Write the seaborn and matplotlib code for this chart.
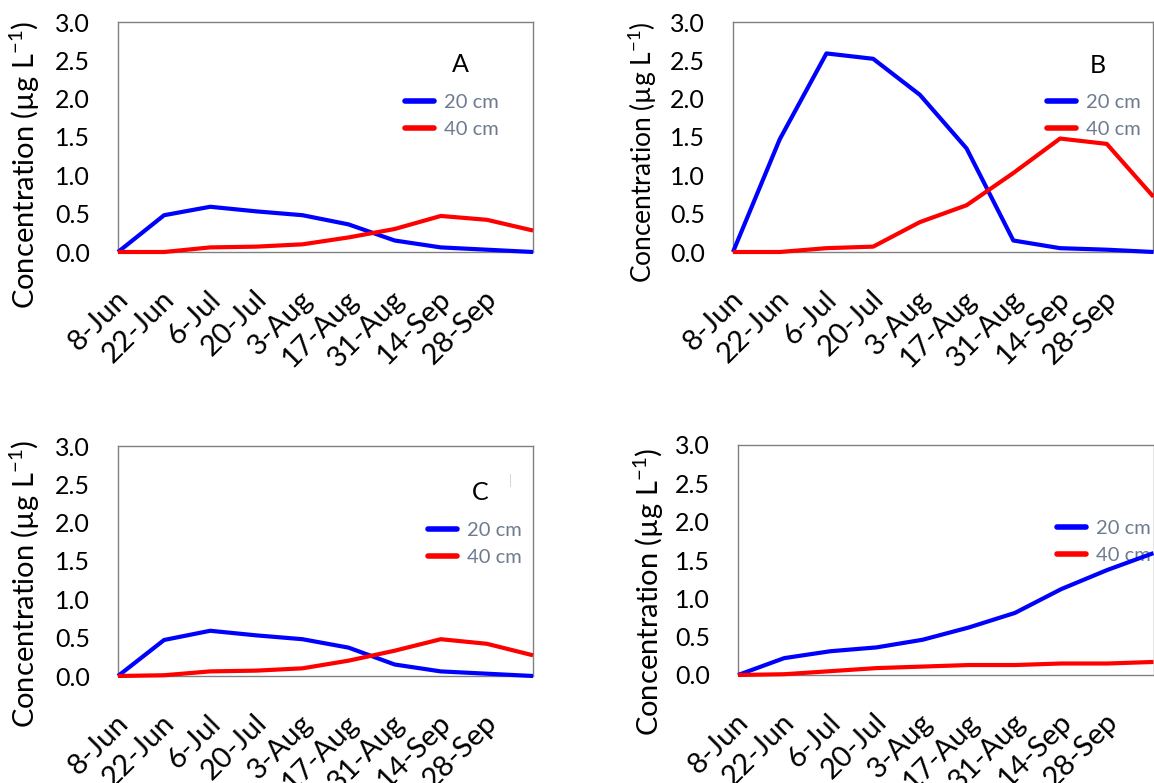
import numpy as np
import pandas as pd
import matplotlib
matplotlib.use("Agg")
import matplotlib.pyplot as plt
import matplotlib.transforms as mtransforms
import seaborn as sns
from matplotlib.lines import Line2D

# ---- data ----
tick_labels = ['8-Jun', '22-Jun', '6-Jul', '20-Jul', '3-Aug', '17-Aug', '31-Aug', '14-Sep', '28-Sep']
series_names = ['20 cm', '40 cm']

A_20 = [0.0, 0.48, 0.59, 0.53, 0.48, 0.36, 0.15, 0.06, 0.03, 0.00]
A_40 = [0.0, 0.00, 0.06, 0.07, 0.10, 0.19, 0.30, 0.47, 0.42, 0.28]
B_20 = [0.0, 1.47, 2.59, 2.52, 2.05, 1.35, 0.15, 0.05, 0.03, 0.00]
B_40 = [0.0, 0.00, 0.05, 0.07, 0.39, 0.61, 1.03, 1.48, 1.41, 0.72]
C_20 = [0.0, 0.47, 0.59, 0.53, 0.48, 0.37, 0.15, 0.06, 0.03, 0.00]
C_40 = [0.0, 0.01, 0.06, 0.07, 0.10, 0.20, 0.33, 0.48, 0.42, 0.27]
D_20 = [0.0, 0.22, 0.31, 0.36, 0.46, 0.62, 0.81, 1.12, 1.37, 1.59]
D_40 = [0.0, 0.01, 0.05, 0.09, 0.11, 0.13, 0.13, 0.15, 0.15, 0.17]

panel_letters = ['A', 'B', 'C', '']
y_ticks = [0.0, 0.5, 1.0, 1.5, 2.0, 2.5, 3.0]

# ---- style ----
sns.set_theme(style="white")
plt.rcParams['font.family'] = ['Lato', 'DejaVu Sans']
plt.rcParams['mathtext.fontset'] = 'custom'
plt.rcParams['mathtext.rm'] = 'Lato'
plt.rcParams['mathtext.default'] = 'regular'

W, H = 1154, 783
fig = plt.figure(figsize=(W / 100, H / 100), dpi=100)

def rect(l, r, t, b):
    return [l / W, 1 - b / H, (r - l) / W, (b - t) / H]

panels = [
    dict(d20=A_20, d40=A_40, rect=rect(118, 533, 22, 252), leg=(0.692, 0.593),
         letter=(0.824, 0.817), ylab=(-0.225, 0.378), ylfs=21),
    dict(d20=B_20, d40=B_40, rect=rect(733, 1153.5, 22, 252), leg=(0.747, 0.593),
         letter=(0.868, 0.813), ylab=(-0.215, 0.435), ylfs=19),
    dict(d20=C_20, d40=C_40, rect=rect(118, 533, 446, 676), leg=(0.747, 0.574),
         letter=(0.872, 0.800), ylab=(-0.225, 0.40), ylfs=21),
    dict(d20=D_20, d40=D_40, rect=rect(738, 1153.5, 445, 675), leg=(0.768, 0.578),
         letter=None, ylab=(-0.215, 0.36), ylfs=21),
]

palette = {'20 cm': '#0000FF', '40 cm': '#FF0000'}
legend_color = '#6E7B8F'
shift = mtransforms.ScaledTranslation(6 / 100, 0, fig.dpi_scale_trans)

for i, p in enumerate(panels):
    ax = fig.add_axes(p['rect'])
    n = len(p['d20'])
    df = pd.DataFrame({
        'x': list(range(n)) * 2,
        'value': list(p['d20']) + list(p['d40']),
        'depth': [series_names[0]] * n + [series_names[1]] * n,
    })
    sns.lineplot(data=df, x='x', y='value', hue='depth', palette=palette,
                 linewidth=3.0, legend=False, ax=ax, sort=False)
    for ln in ax.get_lines():
        ln.set_clip_on(False)
        ln.set_zorder(4)
        ln.set_solid_joinstyle('round')
        ln.set_solid_capstyle('butt')

    ax.set_xlim(0, n - 1)
    ax.set_ylim(0, 3.0)
    ax.set_yticks(y_ticks)
    ax.set_yticklabels([f"{v:.1f}" for v in y_ticks])
    ax.set_xticks(range(len(tick_labels)))
    ax.set_xticklabels(tick_labels, rotation=45, ha='right', va='center',
                       rotation_mode='anchor')
    ax.tick_params(axis='both', length=0, colors='black')
    ax.tick_params(axis='y', pad=20, labelsize=18)
    ax.tick_params(axis='x', pad=31, labelsize=21)
    for lab in ax.get_xticklabels():
        lab.set_transform(lab.get_transform() + shift)
    ax.set_xlabel('')
    for sp in ax.spines.values():
        sp.set_color('#808080')
        sp.set_linewidth(1.0)
        sp.set_visible(True)
    ax.grid(False)

    ax.set_ylabel('Concentration (µg L$^{-1}$)', fontsize=p['ylfs'], color='black')
    ax.yaxis.label.set_verticalalignment('center')
    ax.yaxis.set_label_coords(*p['ylab'])

    handles = [Line2D([], [], color=palette[s], linewidth=4.0) for s in series_names]
    leg = ax.legend(handles, series_names, loc='center left',
                    bbox_to_anchor=p['leg'], frameon=False, fontsize=14.5,
                    labelcolor=legend_color, handlelength=1.45, handletextpad=0.5,
                    labelspacing=0.5, borderpad=0, borderaxespad=0)
    leg.set_zorder(1)

    if p['letter'] is not None:
        ax.text(p['letter'][0], p['letter'][1], panel_letters[i], transform=ax.transAxes,
                fontsize=18, ha='center', va='center', color='black')

# small stray mark next to panel C letter
fig.axes[2].text(0.945, 0.85, '|', transform=fig.axes[2].transAxes, fontsize=9,
                 color='#d0d0d0', ha='center', va='center')

fig.savefig('out.png', dpi=100)
